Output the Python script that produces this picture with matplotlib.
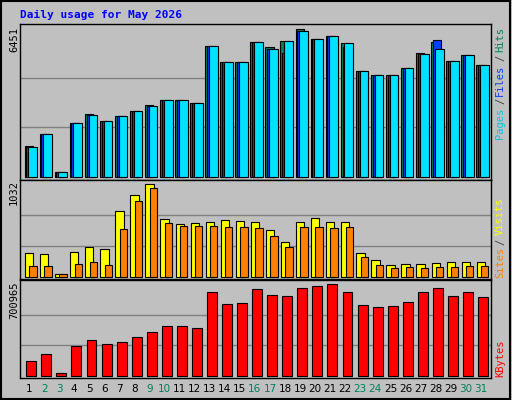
import matplotlib

matplotlib.use("Agg")

import matplotlib.pyplot as plt
from matplotlib.patches import Rectangle

days = list(range(1, 32))
weekend_days = [2, 3, 9, 10, 16, 17, 23, 24, 30, 31]

hits = [1343, 1854, 190, 2335, 2729, 2423, 2642, 2861, 3123, 3342, 3342, 3211, 5707, 5006, 5006, 5882,
        5663, 5926, 6451, 6013, 6145, 5838, 4612, 4437, 4437, 4743, 5400, 5880, 5050, 5313, 4875]
files = [1299, 1854, 190, 2335, 2685, 2423, 2642, 2861, 3080, 3342, 3342, 3211, 5707, 5006, 5006, 5882,
         5546, 5400, 6363, 6013, 6145, 5634, 4612, 4437, 4437, 4743, 5356, 5970, 5050, 5313, 4875]
pages = [1299, 1854, 190, 2335, 2685, 2423, 2642, 2861, 3080, 3342, 3342, 3211, 5707, 5006, 5006, 5882,
         5575, 5926, 6363, 6013, 6145, 5838, 4612, 4437, 4437, 4743, 5356, 5575, 5050, 5313, 4875]
sites = [261, 250, 30, 272, 328, 306, 730, 909, 1032, 641, 585, 596, 607, 630, 619, 607,
         518, 384, 607, 652, 607, 607, 261, 183, 127, 138, 138, 149, 160, 160, 160]
visits = [116, 116, 26, 138, 160, 127, 529, 842, 987, 596, 563, 563, 563, 551, 551, 540,
          451, 328, 551, 551, 540, 551, 216, 127, 93, 104, 93, 104, 104, 116, 116]
kbytes = [110007, 163733, 17908, 225130, 271180, 240480, 255830, 294205, 332580, 378630, 378630, 363280,
          639575, 547480, 555155, 662605, 616555, 608880, 670280, 685630, 700965, 639575, 539805,
          524455, 532130, 562830, 639575, 670280, 608880, 639575, 601205]

MONO = "DejaVu Sans Mono"
W, H = 512, 400


def fx(px):
    return px / W


def fy(py):
    return 1 - py / H


def make_axes(fig, top, bottom):
    ax = fig.add_axes([fx(20), fy(bottom), fx(491 - 20), (bottom - top) / H])
    ax.set_facecolor("#C0C0C0")
    ax.set_xlim(0.40, 31.68)
    ax.set_xticks([])
    ax.set_yticks([])
    for s in ax.spines.values():
        s.set_color("black")
        s.set_linewidth(1.0)
    return ax


def grid(ax, vmax):
    for f in (1 / 3, 2 / 3):
        ax.axhline(vmax * f, color="#808080", linewidth=1.0, zorder=0)


fig = plt.figure(figsize=(W / 100, H / 100), dpi=100)
fig.patch.set_facecolor("#C0C0C0")
fig.patches.append(Rectangle((0.002, 0.003), 0.994, 0.994, transform=fig.transFigure,
                             fill=False, edgecolor="black", linewidth=1.5))

fig.text(fx(20), fy(15), "Daily usage for May 2026", color="#0000FF", fontfamily=MONO,
         fontweight="bold", fontsize=8, va="center", ha="left")

ax1 = make_axes(fig, 24, 180)
ax1.set_ylim(-145, 6657)
grid(ax1, max(hits))
kw = dict(edgecolor="black", linewidth=0.8, align="edge")
ax1.bar([d - 0.30 for d in days], hits, width=0.55, color="#00805C", **kw)
ax1.bar([d - 0.18 for d in days], files, width=0.55, color="#0040FF", **kw)
ax1.bar([d - 0.05 for d in days], pages, width=0.58, color="#00E0FF", **kw)

ax2 = make_axes(fig, 180, 279)
ax2.set_ylim(-26, 1080)
grid(ax2, max(sites))
ax2.bar([d - 0.27 for d in days], sites, width=0.55, color="#FFFF00", **kw)
ax2.bar([d + 0.02 for d in days], visits, width=0.49, color="#FF8000", **kw)

ax3 = make_axes(fig, 280, 378)
ax3.set_ylim(-17640, 733940)
grid(ax3, max(kbytes))
ax3.bar([d - 0.18 for d in days], kbytes, width=0.66, color="#FF0000", **kw)

# left max labels
for y, txt in [(40, str(max(hits))), (193, str(max(sites))), (300, str(max(kbytes)))]:
    fig.text(fx(14), fy(y), txt, rotation=90, fontfamily=MONO, fontsize=7.5,
             ha="center", va="center", color="black")

# right legend labels
for y, txt, c in [(40, "Hits", "#00805C"), (58, "/", "#404040"), (80, "Files", "#0040FF"),
                  (101, "/", "#404040"), (123, "Pages", "#00C8E0"),
                  (216, "Visits", "#FFFF00"), (242, "/", "#404040"), (262, "Sites", "#FF8000"),
                  (358, "KBytes", "#FF0000")]:
    fig.text(fx(500), fy(y), txt, rotation=90, fontfamily=MONO, fontsize=7.5,
             ha="center", va="center", color=c)

# day labels
for d in days:
    x = 20 + (d - 0.40) / (31.68 - 0.40) * 471
    c = "#007F5F" if d in weekend_days else "black"
    fig.text(fx(x), fy(389), str(d), fontsize=7.5, ha="center", va="center", color=c)

fig.savefig("out.png", dpi=100, facecolor=fig.get_facecolor())
